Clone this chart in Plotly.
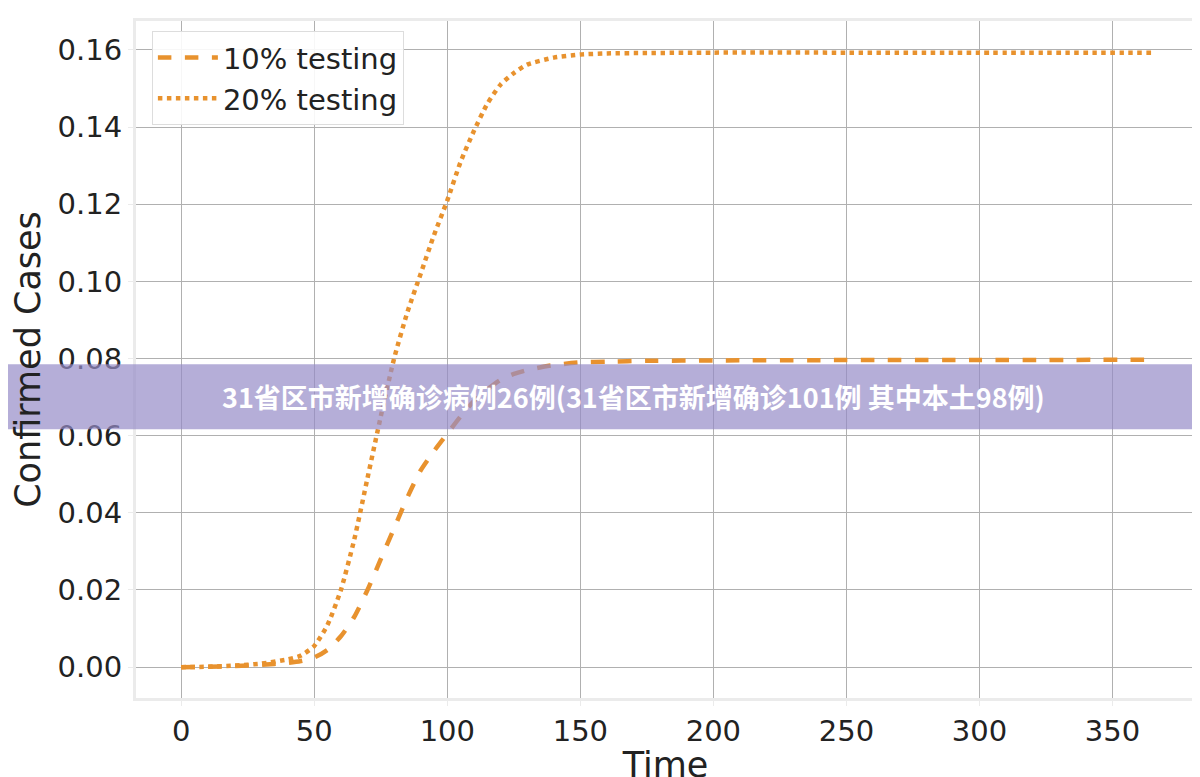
import plotly.graph_objects as go

time = [0, 10, 20, 30, 40, 45, 50, 55, 60, 65, 70, 75, 80, 85, 90, 95, 100, 105, 110, 115, 120, 125, 130, 140, 150, 160, 175, 200, 250, 300, 365]
testing_10 = [0.0, 0.0001, 0.0003, 0.0006, 0.0011, 0.0016, 0.0025, 0.0045, 0.008, 0.013, 0.02, 0.028, 0.036, 0.044, 0.051, 0.056, 0.0605, 0.065, 0.069, 0.072, 0.0745, 0.076, 0.077, 0.0783, 0.079, 0.0792, 0.0794, 0.0795, 0.0796, 0.0796, 0.0797]
testing_20 = [0.0, 0.0001, 0.0004, 0.0009, 0.002, 0.003, 0.0055, 0.011, 0.02, 0.033, 0.049, 0.065, 0.08, 0.092, 0.102, 0.112, 0.121, 0.131, 0.139, 0.146, 0.151, 0.154, 0.1562, 0.158, 0.1588, 0.1591, 0.1592, 0.1593, 0.1593, 0.1593, 0.1593]
banner = "31省区市新增确诊病例26例(31省区市新增确诊101例 其中本土98例)"

color = "#E8922E"
fig = go.Figure()
fig.add_trace(go.Scatter(x=time, y=testing_10, mode="lines", name="10% testing",
                         line=dict(color=color, width=4.5, dash="dash", shape="spline", smoothing=0.6)))
fig.add_trace(go.Scatter(x=time, y=testing_20, mode="lines", name="20% testing",
                         line=dict(color=color, width=4.5, dash="dot", shape="spline", smoothing=0.6)))

axis = dict(showgrid=True, gridcolor="#b0b0b0", gridwidth=1, zeroline=False,
            showline=True, linecolor="#ebebeb", linewidth=3, mirror=True,
            tickfont=dict(size=29, color="#222"), ticks="outside", tickcolor="#ebebeb")
fig.update_layout(
    width=1200, height=777, plot_bgcolor="white", paper_bgcolor="white",
    font=dict(family="DejaVu Sans"),
    margin=dict(l=128, r=12, t=10, b=87),
    xaxis=dict(axis, range=[-17, 381], tickvals=[0, 50, 100, 150, 200, 250, 300, 350],
               title=dict(text="Time", font=dict(size=35, color="#222"), standoff=2)),
    yaxis=dict(axis, range=[-0.008, 0.1675], tickvals=[0, 0.02, 0.04, 0.06, 0.08, 0.10, 0.12, 0.14, 0.16],
               tickformat=".2f",
               title=dict(text="Confirmed Cases", font=dict(size=35, color="#222"), standoff=10)),
    legend=dict(x=0.015, y=0.985, xanchor="left", yanchor="top", bgcolor="rgba(255,255,255,0.9)",
                bordercolor="#dddddd", borderwidth=1, font=dict(size=29, color="#222"),
                itemwidth=60),
    shapes=[dict(type="rect", xref="paper", yref="paper", x0=-0.2, x1=1.05,
                 y0=0.397, y1=0.493, fillcolor="rgba(150,140,200,0.7)", line=dict(width=0), layer="above")],
    annotations=[dict(text="<b>" + banner + "</b>", xref="paper", yref="paper", x=0.47, y=0.445, showarrow=False,
                      font=dict(size=27, color="white", family="Noto Sans CJK SC"))],
)
fig.write_html("out.html")
